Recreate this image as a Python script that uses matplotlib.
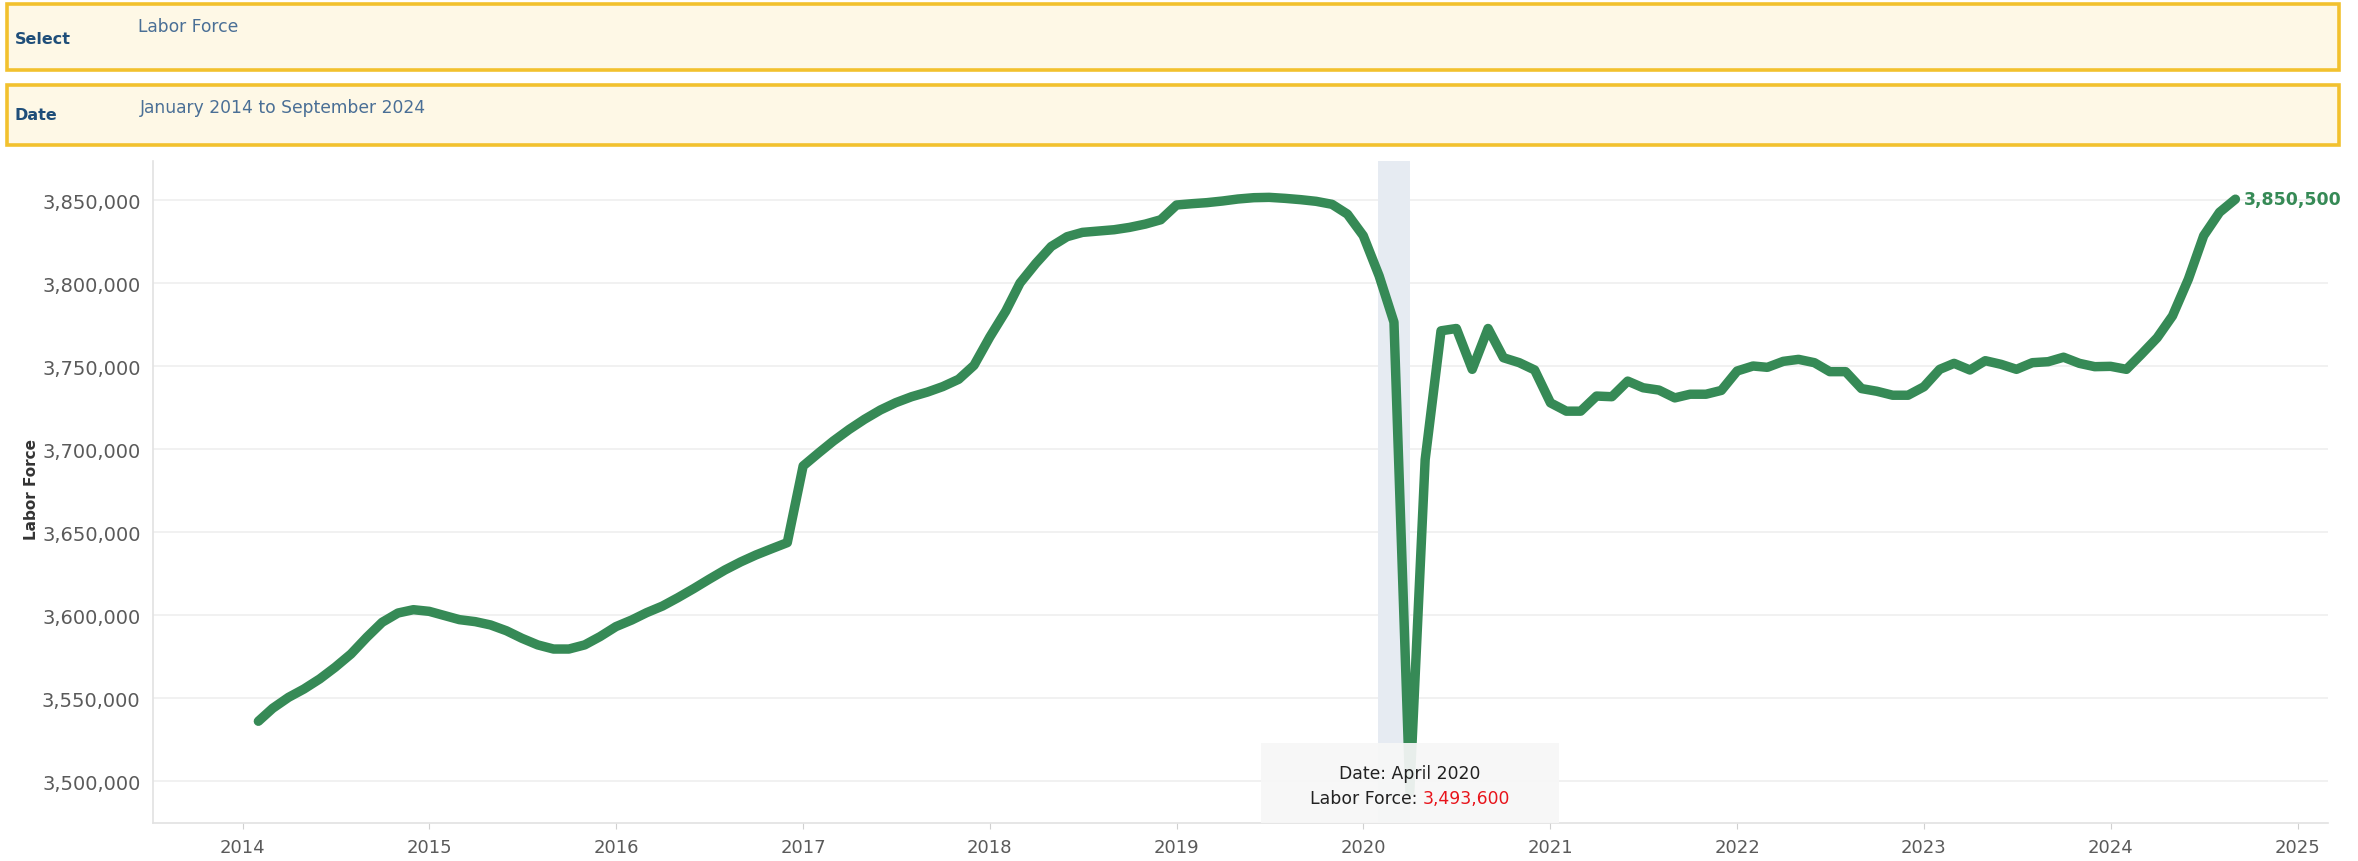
import matplotlib
matplotlib.use('Agg')
import matplotlib.pyplot as plt
import matplotlib.dates as mdates
import pandas as pd
from matplotlib.patches import Rectangle
from matplotlib.ticker import FuncFormatter

# monthly labor force, first plotted month is Feb 2014
lf_2014 = [3536000, 3543800, 3550400, 3555400, 3561500, 3568500, 3576500, 3586600, 3595600, 3601200, 3603200]
lf_2015 = [3602200, 3599600, 3597200, 3596000, 3594000, 3590500, 3586000, 3582000, 3579500, 3579500, 3582000, 3587000]
lf_2016 = [3593000, 3597000, 3601400, 3605400, 3610400, 3615900, 3621500, 3627100, 3632000, 3636200, 3640000, 3643600]
lf_2017 = [3689800, 3697800, 3704800, 3711800, 3717900, 3723500, 3727900, 3731500, 3734300, 3737600, 3742000, 3750400]
lf_2018 = [3767500, 3783000, 3800000, 3811800, 3822000, 3827900, 3830500, 3831300, 3832100, 3833500, 3835500, 3838100]
lf_2019 = [3847000, 3847800, 3848400, 3849400, 3850600, 3851400, 3851600, 3851000, 3850200, 3849200, 3847400, 3841500]
lf_2020 = [3828500, 3804300, 3776400, 3493600, 3693600, 3771200, 3772600, 3748000, 3772600, 3755000, 3752000, 3747600]
lf_2021 = [3727800, 3722800, 3722800, 3731900, 3731500, 3740900, 3736900, 3735500, 3730800, 3733000, 3733000, 3735300]
lf_2022 = [3747000, 3750000, 3749200, 3752800, 3754000, 3752000, 3746600, 3746600, 3736400, 3734800, 3732400, 3732400]
lf_2023 = [3737500, 3748000, 3751600, 3747600, 3753200, 3751000, 3748000, 3752000, 3752600, 3755300, 3751600, 3749600]
lf_2024 = [3749800, 3748000, 3757000, 3767000, 3780200, 3802300, 3828500, 3842600, 3850500]

labor_force = lf_2014 + lf_2015 + lf_2016 + lf_2017 + lf_2018 + lf_2019 + lf_2020 + lf_2021 + lf_2022 + lf_2023 + lf_2024
dates = pd.date_range('2014-02-01', periods=len(labor_force), freq='MS')

y_ticks = list(range(3500000, 3850001, 50000))
x_years = list(range(2014, 2026))

select_value = 'Labor Force'
date_value = 'January 2014 to September 2024'
hover_date = pd.Timestamp('2020-04-01')
hover_value = 3493600

GREEN = '#368a56'
W, H = 2358, 862

fig = plt.figure(figsize=(W / 100, H / 100), dpi=100)

# filter boxes at the top
for top, bot in [(4.5, 70.7), (85.7, 146)]:
    fig.patches.append(Rectangle((7.5 / W, 1 - bot / H), (2339 - 7.5) / W, (bot - top) / H,
                                 transform=fig.transFigure, facecolor='#fef8e6',
                                 edgecolor='#f2c12e', linewidth=2.6))
fig.text(15 / W, 1 - 39 / H, 'Select', fontsize=11.5, fontweight='bold', color='#1f4e79', va='center')
fig.text(138 / W, 1 - 27 / H, select_value, fontsize=12.3, color='#4a6f96', va='center')
fig.text(15 / W, 1 - 116 / H, 'Date', fontsize=11.5, fontweight='bold', color='#1f4e79', va='center')
fig.text(140 / W, 1 - 108 / H, date_value, fontsize=12.3, color='#4a6f96', va='center')

ax = fig.add_axes([153 / W, 1 - 824 / H, (2328 - 153) / W, (824 - 162) / H])
ax.plot(dates, labor_force, color=GREEN, lw=6.8, solid_joinstyle='round',
        solid_capstyle='round', zorder=3)

ax.set_ylim(3474700, 3873500)
ax.set_xlim(pd.Timestamp('2013-07-10'), pd.Timestamp('2025-03-01'))

# hover band
ax.axvspan(pd.Timestamp('2020-01-29'), hover_date, color='#e6ebf2', zorder=1, lw=0)

ax.set_yticks(y_ticks)
ax.yaxis.set_major_formatter(FuncFormatter(lambda v, p: f'{int(v):,}'))
ax.set_xticks([pd.Timestamp(f'{y}-01-01') for y in x_years])
ax.set_xticklabels([str(y) for y in x_years])
ax.tick_params(axis='y', length=0, pad=9, labelsize=14, labelcolor='#5a5a5a')
ax.tick_params(axis='x', length=4, color='#d0d0d0', pad=7, labelsize=13, labelcolor='#5a5a5a')
ax.grid(axis='y', color='#efefef', lw=1.2, zorder=0)
ax.set_axisbelow(True)
for s in ['top', 'right']:
    ax.spines[s].set_visible(False)
for s in ['left', 'bottom']:
    ax.spines[s].set_color('#e2e2e2')
    ax.spines[s].set_linewidth(1.2)

fig.text(31 / W, 1 - 490 / H, 'Labor Force', rotation=90, fontsize=11, fontweight='bold',
         color='#333333', ha='center', va='center')

# last value label
ax.annotate(f'{labor_force[-1]:,}', xy=(dates[-1], labor_force[-1]), xytext=(6, 0),
            textcoords='offset points', fontsize=12.5, fontweight='bold', color=GREEN,
            va='center', ha='left')

# tooltip
fig.canvas.draw()
hx, hy = ax.transData.transform((mdates.date2num(hover_date), ax.get_ylim()[0]))
tw, th = 298, 80
fig.patches.append(Rectangle(((hx - tw / 2) / W, hy / H), tw / W, th / H, transform=fig.transFigure,
                             facecolor='#f7f7f7', edgecolor='none', alpha=0.93, zorder=5))
fig.text(hx / W, 1 - 774 / H, f'Date: {hover_date.strftime("%B %Y")}', fontsize=12.4,
         color='#222222', ha='center', va='center', zorder=6)
r = fig.canvas.get_renderer()
t1 = fig.text(0, 1 - 799 / H, 'Labor Force: ', fontsize=12.4, color='#222222', va='center', zorder=6)
t2 = fig.text(0, 1 - 799 / H, f'{hover_value:,}', fontsize=12.4, color='#e8141b', va='center', zorder=6)
w1 = t1.get_window_extent(r).width
w2 = t2.get_window_extent(r).width
x0 = hx - (w1 + w2) / 2
t1.set_x(x0 / W)
t2.set_x((x0 + w1) / W)

fig.savefig('out.png', dpi=100)
